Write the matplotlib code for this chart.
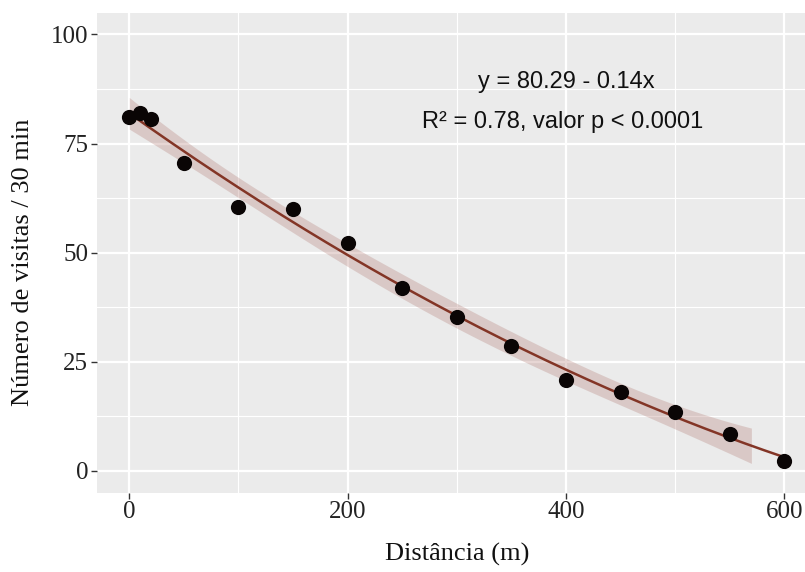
import numpy as np
import matplotlib
matplotlib.use("Agg")
import matplotlib.pyplot as plt

# ---- data ----
distancia = [0, 10, 20, 50, 100, 150, 200, 250, 300, 350, 400, 450, 500, 550, 600]
visitas = [81.0, 82.0, 80.5, 70.6, 60.5, 59.9, 52.3, 42.0, 35.3, 28.7, 20.9, 18.1, 13.5, 8.5, 2.3]
band_end = 570  # confidence band drawn up to this distance in the original
eq_text = "y = 80.29 - 0.14x"
r2_text = "R² = 0.78, valor p < 0.0001"
x_ticks = [0, 200, 400, 600]
y_ticks = [0, 25, 50, 75, 100]

x = np.array(distancia, dtype=float)
y = np.array(visitas, dtype=float)

# quadratic smooth with 99% confidence band
X = np.vstack([np.ones_like(x), x, x ** 2]).T
beta, *_ = np.linalg.lstsq(X, y, rcond=None)
resid = y - X @ beta
dof = len(x) - X.shape[1]
s2 = resid @ resid / dof
cov = s2 * np.linalg.inv(X.T @ X)
tcrit = 3.055
xs = np.linspace(x.min(), x.max(), 300)
Xs = np.vstack([np.ones_like(xs), xs, xs ** 2]).T
fit = Xs @ beta
se = np.sqrt(np.einsum("ij,jk,ik->i", Xs, cov, Xs))
mask = xs <= band_end

fig = plt.figure(figsize=(8.05, 5.72), dpi=100)
ax = fig.add_axes([0.1199, 0.1385, 0.895, 0.8396])
ax.set_facecolor("#EBEBEB")
ax.set_xlim(-30, 630)
ax.set_ylim(-5, 105)

ax.set_xticks(x_ticks)
ax.set_yticks(y_ticks)
ax.set_xticks([100, 300, 500], minor=True)
ax.set_yticks([12.5, 37.5, 62.5, 87.5], minor=True)
ax.grid(which="major", color="white", linewidth=1.6)
ax.grid(which="minor", color="white", linewidth=0.8)
ax.set_axisbelow(True)
for sp in ax.spines.values():
    sp.set_visible(False)

ax.tick_params(which="major", length=4, width=1, color="#333333", pad=2,
               labelsize=18, labelcolor="#222222")
ax.tick_params(which="minor", length=0)
for lab in ax.get_xticklabels() + ax.get_yticklabels():
    lab.set_fontfamily("Liberation Serif")

ax.fill_between(xs[mask], (fit - tcrit * se)[mask], (fit + tcrit * se)[mask],
                color="#B5817A", alpha=0.32, linewidth=0, zorder=2)
ax.plot(xs, fit, color="#833526", linewidth=1.8, zorder=3)
ax.scatter(x, y, s=120, color="#0a0505", zorder=4, linewidths=0)

ax.text(400, 89, eq_text, ha="center", va="center", fontsize=17,
        family="Liberation Sans", color="#111111")
ax.text(397, 80, r2_text, ha="center", va="center", fontsize=17,
        family="Liberation Sans", color="#111111")

fig.text(0.5677, 0.031, "Distância (m)", ha="center", va="center",
         fontsize=19, family="Liberation Serif", color="#111111")
fig.text(0.029, 0.542, "Número de visitas / 30 min", ha="center", va="center",
         rotation=90, fontsize=19, family="Liberation Serif", color="#111111")

fig.savefig("out.png", dpi=100)
